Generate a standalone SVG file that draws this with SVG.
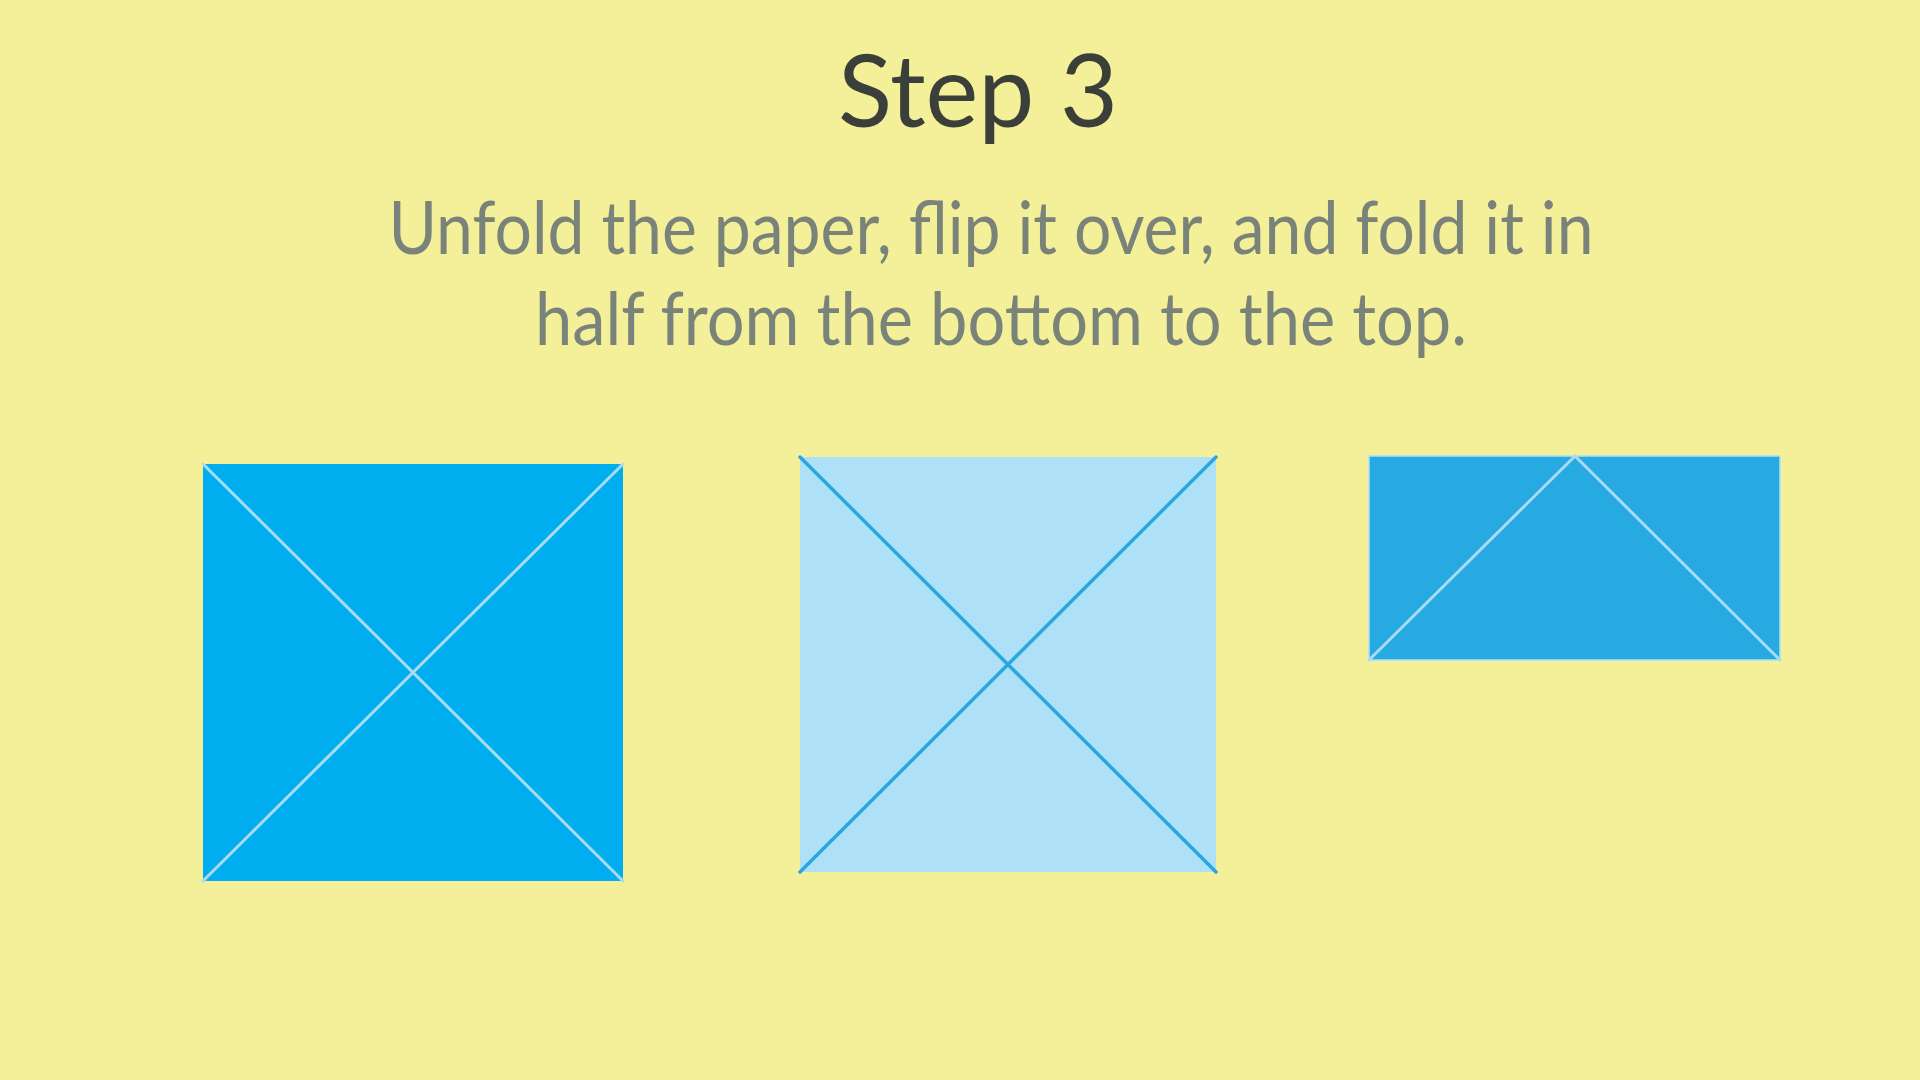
<svg xmlns="http://www.w3.org/2000/svg" width="1920" height="1080" viewBox="0 0 1920 1080">
<style>
.title{font-family:Lato,"Noto Sans",sans-serif;font-size:100px;fill:#3a3f3a;text-anchor:middle}
.sub{font-family:Lato,"Noto Sans",sans-serif;font-size:74px;fill:#7a837a;text-anchor:middle}
.light{stroke:#a9dcf4;stroke-width:3;stroke-linecap:round;fill:none}
.dark{stroke:#27a8e0;stroke-width:3.5;stroke-linecap:round;fill:none}
</style>
<rect width="1920" height="1080" fill="#f4f09a"/>
<g id="title"><text class="title" x="978" y="127">Step 3</text></g>
<g id="instructions">
<text class="sub" x="991" y="254" textLength="1205" lengthAdjust="spacingAndGlyphs">Unfold the paper, flip it over, and fold it in</text>
<text class="sub" x="1001" y="345" textLength="932" lengthAdjust="spacingAndGlyphs">half from the bottom to the top.</text>
</g>
<g id="paper-front">
<rect x="203" y="464" width="420" height="417" fill="#00aeef"/>
<line class="light" x1="203" y1="464" x2="623" y2="881"/>
<line class="light" x1="623" y1="464" x2="203" y2="881"/>
</g>
<g id="paper-flipped">
<rect x="800" y="457" width="416" height="415" fill="#aee1f7"/>
<line class="dark" x1="800" y1="457" x2="1216" y2="872"/>
<line class="dark" x1="1216" y1="457" x2="800" y2="872"/>
</g>
<g id="paper-folded">
<rect x="1369" y="456" width="411" height="204" fill="#27aae1" stroke="#aee1f7" stroke-width="1.5"/>
<polyline class="light" points="1369,660 1575,456 1780,660"/>
</g>
<g id="connectors"></g>
</svg>
